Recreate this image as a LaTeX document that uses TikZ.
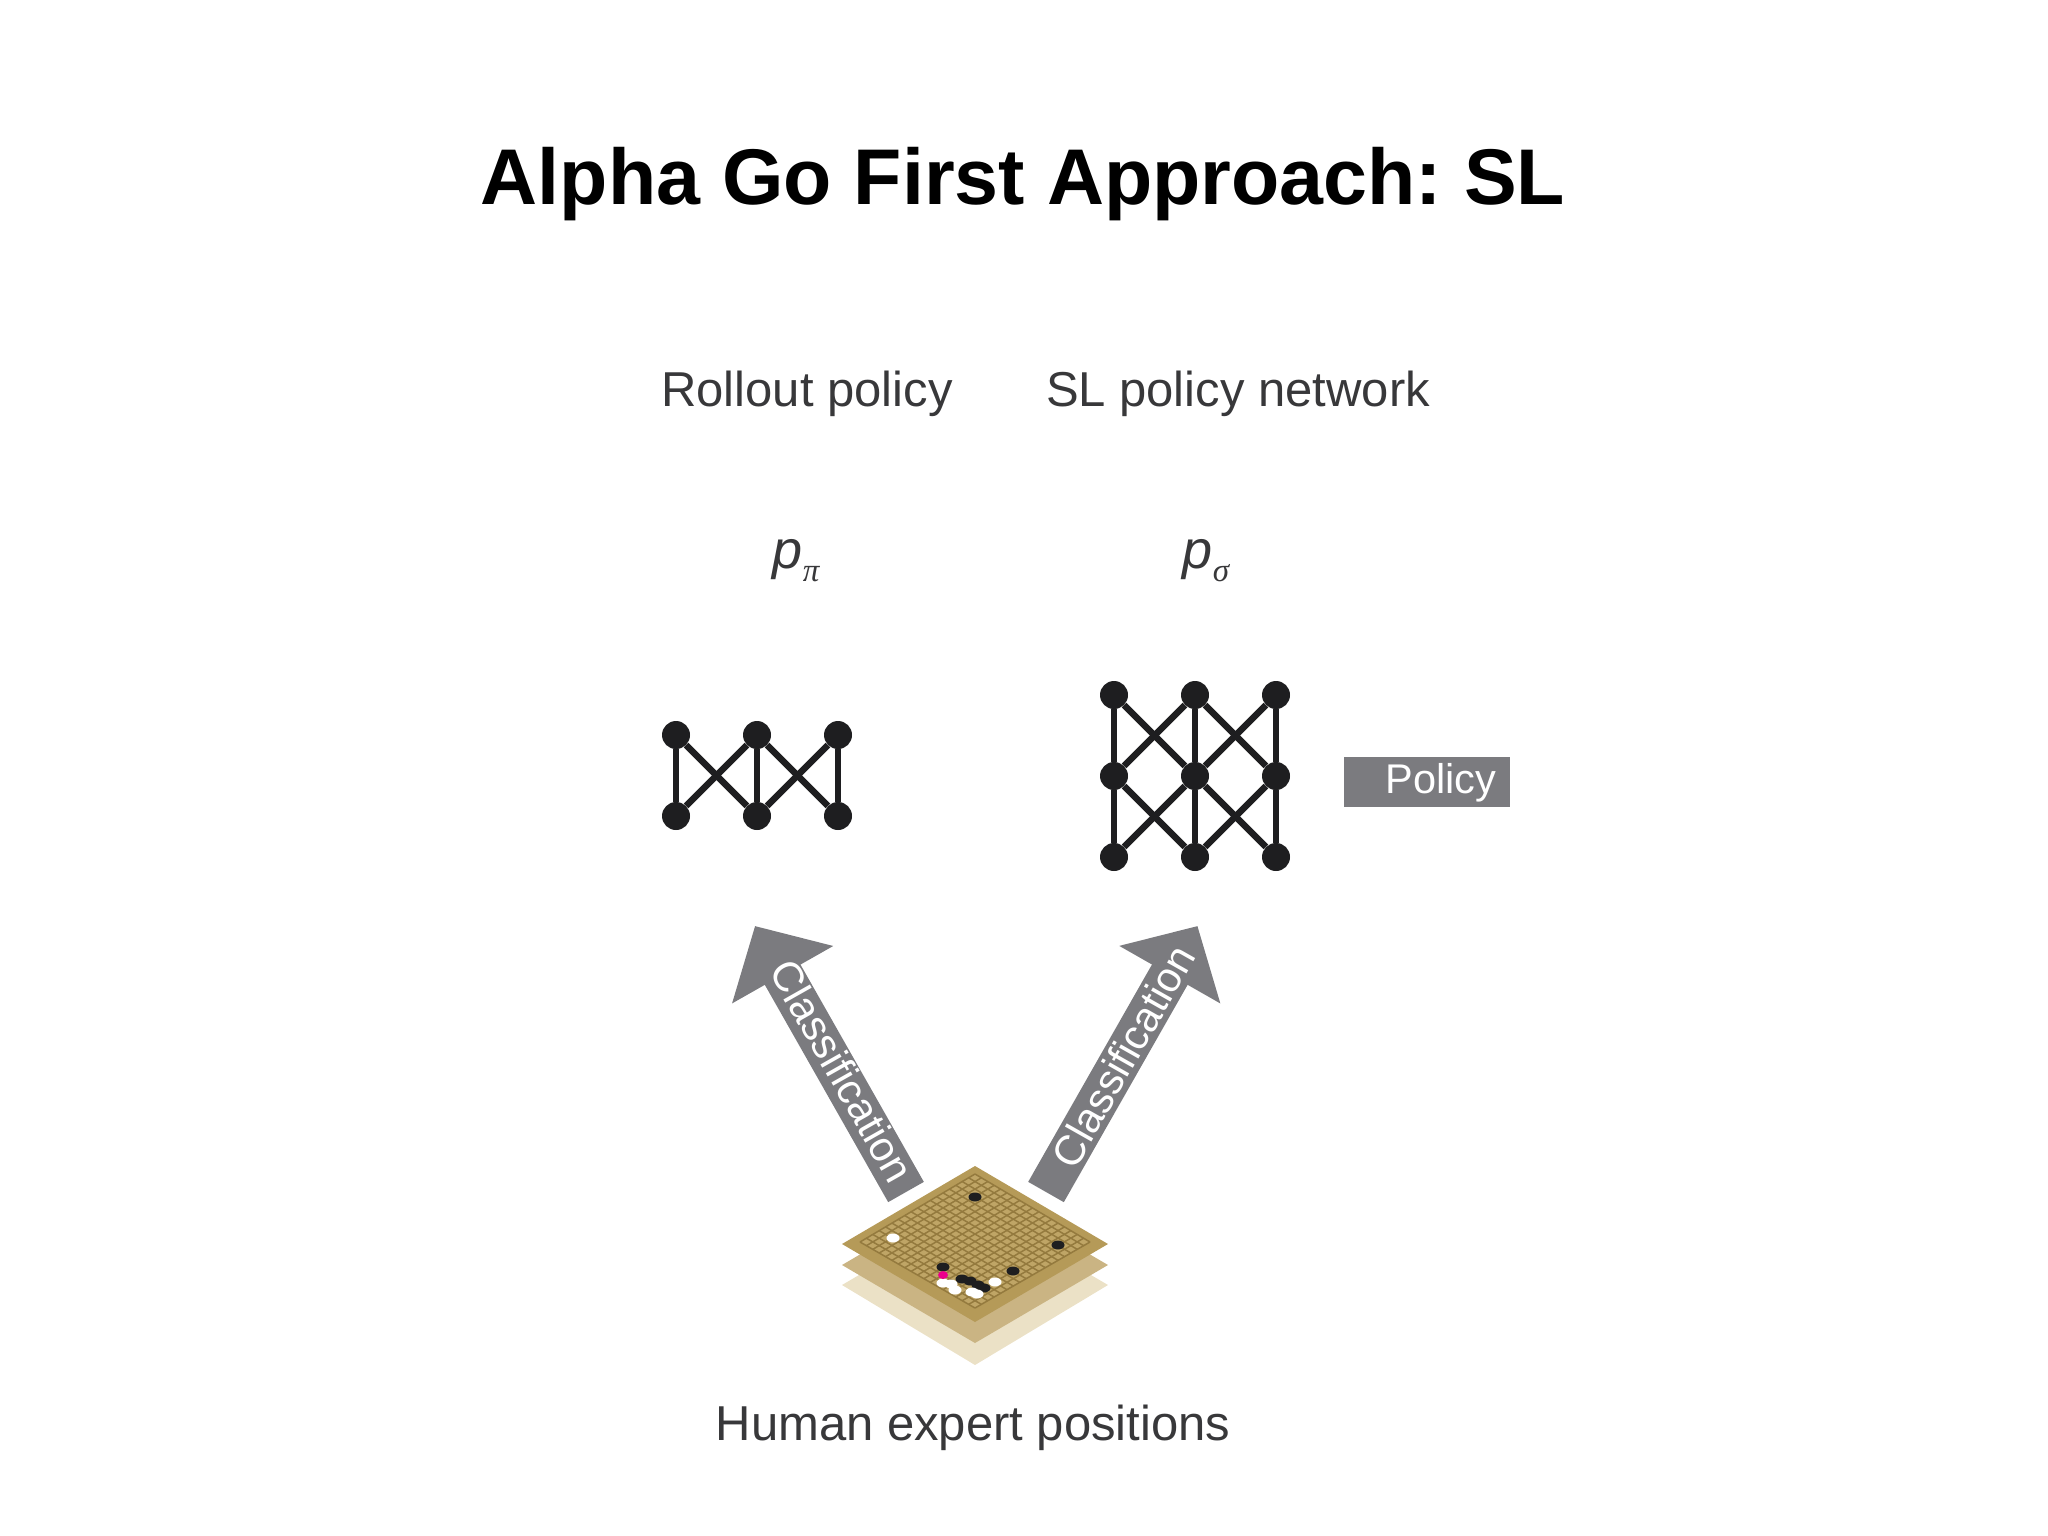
\documentclass[tikz,border=0pt]{standalone}
\usepackage{fontspec}
\setmainfont{Liberation Sans}
\newfontfamily\greekfont{Liberation Serif}
\usetikzlibrary{arrows.meta,shapes.geometric}
\definecolor{labelgray}{HTML}{38383A}
\definecolor{arrowgray}{HTML}{7B7B7F}
\definecolor{netblack}{HTML}{1E1E20}
\definecolor{boardtop}{HTML}{B59A58}
\definecolor{boardgrid}{HTML}{947A3E}
\definecolor{boardhole}{HTML}{BFA566}
\definecolor{boardmid}{HTML}{CAB483}
\definecolor{boardlow}{HTML}{EBE1C6}

\begin{document}
\frenchspacing
\begin{tikzpicture} [
    x=1pt, y=-1pt,
    title/.style    = { font=\fontsize{79}{90}\selectfont\bfseries, text=black, inner sep=0pt },
    caption/.style  = { font=\fontsize{49}{54}\selectfont, text=labelgray, inner sep=0pt },
    symbol/.style   = { font=\fontsize{54}{58}\selectfont\itshape, text=labelgray, inner sep=0pt },
    dot/.style      = { circle, fill=netblack, inner sep=0pt, minimum size=28pt },
    edge/.style     = { draw=netblack, line width=6.5pt },
    bigarrow/.style = { draw=arrowgray, line width=41pt,
                        -{Triangle[length=56pt,width=113pt]} },
    arrowtext/.style= { font=\fontsize{42}{46}\selectfont, text=white, inner sep=0pt },
    policybox/.style= { fill=arrowgray, minimum width=166pt, minimum height=50pt, inner sep=0pt },
    stone/.style    = { ellipse, inner sep=0pt, minimum width=13pt, minimum height=9pt },
  ]
  \useasboundingbox (0,0) rectangle (2048,1536);

  % Define text nodes
  \node[title](heading) at (1023,184){Alpha Go First Approach: SL};
  \node[caption](rollout) at (807,394){Rollout policy};
  \node[caption](slnet) at (1238,394){SL policy network};
  \node[caption](human) at (973,1428){Human expert positions};
  \node[symbol](ppi) at (796,561){p\raisebox{-13pt}{\fontsize{33}{36}\selectfont\greekfont\itshape π}};
  \node[symbol](psigma) at (1206,561){p\raisebox{-13pt}{\fontsize{33}{36}\selectfont\greekfont\itshape σ}};
  \node[policybox](policy) at (1427,782){};
  \node[font=\fontsize{41.5}{45}\selectfont, text=white, inner sep=0pt](policytext) at (1441,783){Policy};

  % Define nodes of the small network
  \foreach \name/\px/\py in {a1/676/735, a2/757/735, a3/838/735, b1/676/816, b2/757/816, b3/838/816}
    \node[dot](\name) at (\px,\py){};

  % Define nodes of the big network
  \foreach \name/\px/\py in {c1/1114/695, c2/1195/695, c3/1276/695,
                             d1/1114/776, d2/1195/776, d3/1276/776,
                             e1/1114/857, e2/1195/857, e3/1276/857}
    \node[dot](\name) at (\px,\py){};

  % connect the nodes
  \foreach \from/\to in {a1/b1, a1/b2, a2/b1, a2/b2, a2/b3, a3/b2, a3/b3}
    \path [edge] (\from) -- (\to);
  \foreach \from/\to in {c1/d1, c1/d2, c2/d1, c2/d2, c2/d3, c3/d2, c3/d3,
                         d1/e1, d1/e2, d2/e1, d2/e2, d2/e3, d3/e2, d3/e3}
    \path [edge] (\from) -- (\to);

  % the board layers
  \fill[boardlow] (842,1285) -- (975,1207) -- (1108,1285) -- (975,1365) -- cycle;
  \fill[boardmid] (842,1265) -- (975,1187) -- (1108,1265) -- (975,1343) -- cycle;
  \fill[boardtop] (842,1244) -- (975,1166) -- (1108,1244) -- (975,1322) -- cycle;
  \fill[boardhole] (860,1242) -- (975,1174) -- (1090,1242) -- (975,1308) -- cycle;
  \foreach \i in {0,...,18} {
    \draw[boardgrid, line width=1.5pt]
      ({860+115*\i/18},{1242-68*\i/18}) -- ({975+115*\i/18},{1308-66*\i/18});
    \draw[boardgrid, line width=1.5pt]
      ({860+115*\i/18},{1242+66*\i/18}) -- ({975+115*\i/18},{1174+68*\i/18});
  }

  % the stones
  \foreach \name/\px/\py in {s1/975/1197, s2/1058/1245, s3/1013/1271, s4/943/1267,
                             s5/962/1279, s6/970/1281, s7/978/1285, s8/984/1288}
    \node[stone, fill=netblack](\name) at (\px,\py){};
  \foreach \name/\px/\py in {w1/893/1238, w2/995/1282, w3/943/1283, w4/951/1284,
                             w5/955/1290, w6/972/1292, w7/977/1294}
    \node[stone, fill=white](\name) at (\px,\py){};
  \node[stone, fill=magenta, minimum width=10pt, minimum height=8pt](hand) at (943,1275){};

  % the big arrows
  \coordinate (leftstart) at (906,1192);
  \coordinate (lefttip) at (755,926);
  \coordinate (rightstart) at (1046,1192);
  \coordinate (righttip) at (1197.5,926);
  \draw[bigarrow] (leftstart) -- (lefttip);
  \draw[bigarrow] (rightstart) -- (righttip);
  \node[arrowtext, rotate=-60.5](lefttext) at (842,1071){Classification};
  \node[arrowtext, rotate=60.5](righttext) at (1123,1056){Classification};
\end{tikzpicture}
\end{document}
